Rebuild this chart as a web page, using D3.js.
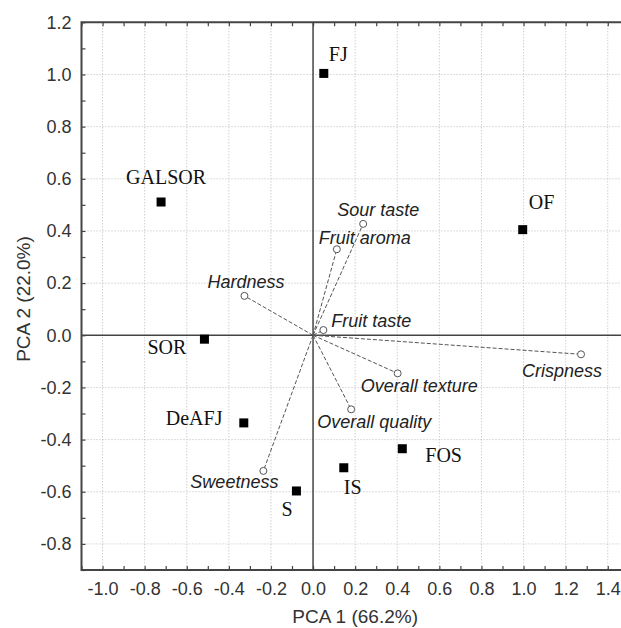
<!DOCTYPE html>
<meta charset="utf-8">
<head>
	<script type="text/javascript" src="https://cdn.jsdelivr.net/npm/d3@7/dist/d3.min.js"></script>
	<style>
		body { margin: 0; background: #fff; }
		.tick text { fill: #333; }
	</style>
</head>
<body>
	<svg id="chart" width="621" height="628"></svg>
</body>
<script type="text/javascript">
	// samples (filled squares)
	var sampleNames = ["FJ", "GALSOR", "OF", "SOR", "DeAFJ", "S", "IS", "FOS"];
	var sampleX = [0.051, -0.722, 0.996, -0.516, -0.329, -0.079, 0.146, 0.424];
	var sampleY = [1.004, 0.511, 0.405, -0.015, -0.336, -0.597, -0.508, -0.435];

	// attributes (open circles, vectors from origin)
	var varNames = ["Sour taste", "Fruit aroma", "Fruit taste", "Crispness", "Overall texture", "Overall quality", "Hardness", "Sweetness"];
	var varX = [0.238, 0.113, 0.049, 1.273, 0.402, 0.181, -0.326, -0.236];
	var varY = [0.427, 0.330, 0.020, -0.073, -0.146, -0.284, 0.151, -0.520];

	var xTickLabels = ["-1.0", "-0.8", "-0.6", "-0.4", "-0.2", "0.0", "0.2", "0.4", "0.6", "0.8", "1.0", "1.2", "1.4"];
	var yTickLabels = ["-0.8", "-0.6", "-0.4", "-0.2", "0.0", "0.2", "0.4", "0.6", "0.8", "1.0", "1.2"];

	// label placement (pixels from the mark)
	var sampleLabelPos = {
		"FJ": [5, -12], "GALSOR": [-35, -18], "OF": [6, -21], "SOR": [-57, 15],
		"DeAFJ": [-78, 2], "S": [-15, 25], "IS": [0, 26], "FOS": [23, 13]
	};
	var varLabelPos = {
		"Sour taste": [-26, -8], "Fruit aroma": [-18, -5], "Fruit taste": [8, -3],
		"Crispness": [-59, 23], "Overall texture": [-37, 19], "Overall quality": [-34, 19],
		"Hardness": [-37, -8], "Sweetness": [-73, 17]
	};

	var svg = d3.select('#chart');
	var plotLeft = 81.5, plotTop = 22.3, plotBottom = 570;

	var x = d3.scaleLinear().domain([-1.1, 1.5]).range([plotLeft, plotLeft + 2.6 * 210.5]);
	var y = d3.scaleLinear().domain([-0.9, 1.2]).range([plotBottom, plotTop]);
	var plotRight = x(1.5);

	var xMajor = xTickLabels.map(Number);
	var yMajor = yTickLabels.map(Number);
	var xMinor = d3.range(-11, 15).map(function(i){ return i / 10; });
	var yMinor = d3.range(-9, 13).map(function(i){ return i / 10; });

	//grid
	var grid = svg.append('g');
	grid.selectAll('line.vg').data(xMajor.filter(function(d){ return d !== 0; }))
		.enter().append('line')
		.attr('x1', function(d){ return x(d); }).attr('x2', function(d){ return x(d); })
		.attr('y1', plotTop).attr('y2', plotBottom)
		.attr('stroke', '#bbb').attr('stroke-width', 1).attr('stroke-dasharray', '1,2');
	grid.selectAll('line.hg').data(yMajor.filter(function(d){ return d !== 0 && d < 1.2; }))
		.enter().append('line')
		.attr('y1', function(d){ return y(d); }).attr('y2', function(d){ return y(d); })
		.attr('x1', plotLeft).attr('x2', plotRight)
		.attr('stroke', '#bbb').attr('stroke-width', 1).attr('stroke-dasharray', '1,2');

	// zero axes
	svg.append('line').attr('x1', x(0)).attr('x2', x(0)).attr('y1', plotTop).attr('y2', plotBottom)
		.attr('stroke', '#444').attr('stroke-width', 1.5);
	svg.append('line').attr('x1', plotLeft).attr('x2', plotRight).attr('y1', y(0)).attr('y2', y(0))
		.attr('stroke', '#444').attr('stroke-width', 1.5);

	// minor ticks, pointing inward
	function minorStyle(g){
		g.select('.domain').remove();
		g.selectAll('.tick line').attr('stroke', '#444').attr('stroke-width', 1.2);
	}
	svg.append('g').attr('transform', 'translate(' + plotLeft + ',0)')
		.call(d3.axisLeft(y).tickValues(yMinor).tickSize(-4).tickFormat(''))
		.call(minorStyle);
	svg.append('g').attr('transform', 'translate(0,' + plotTop + ')')
		.call(d3.axisTop(x).tickValues(xMinor).tickSize(-4).tickFormat(''))
		.call(minorStyle);
	svg.append('g').attr('transform', 'translate(0,' + plotBottom + ')')
		.call(d3.axisBottom(x).tickValues(xMinor).tickSize(-4).tickFormat(''))
		.call(minorStyle);

	// tick labels
	var yAxis = svg.append('g').attr('transform', 'translate(' + plotLeft + ',0)')
		.call(d3.axisLeft(y).tickValues(yMajor).tickSize(0).tickPadding(10)
			.tickFormat(function(d, i){ return yTickLabels[i]; }));
	yAxis.select('.domain').remove();
	yAxis.attr('font-family', 'Liberation Sans, Arial, sans-serif').attr('font-size', 18);

	var xAxis = svg.append('g').attr('transform', 'translate(0,' + plotBottom + ')')
		.call(d3.axisBottom(x).tickValues(xMajor).tickSize(0).tickPadding(12)
			.tickFormat(function(d, i){ return xTickLabels[i]; }));
	xAxis.select('.domain').remove();
	xAxis.attr('font-family', 'Liberation Sans, Arial, sans-serif').attr('font-size', 18);

	// frame
	svg.append('path')
		.attr('d', 'M' + plotRight + ',' + plotTop + 'H' + plotLeft + 'V' + plotBottom + 'H' + plotRight)
		.attr('fill', 'none').attr('stroke', '#444').attr('stroke-width', 2);

	// axis titles
	svg.append('text').attr('x', (plotLeft + plotRight) / 2).attr('y', 623)
		.attr('text-anchor', 'middle').attr('fill', '#333')
		.attr('font-family', 'Liberation Sans, Arial, sans-serif').attr('font-size', 19)
		.text('PCA 1 (66.2%)');
	svg.append('text').attr('transform', 'translate(30,299) rotate(-90)')
		.attr('text-anchor', 'middle').attr('fill', '#333')
		.attr('font-family', 'Liberation Sans, Arial, sans-serif').attr('font-size', 19)
		.text('PCA 2 (22.0%)');

	// attribute vectors
	var vars = varNames.map(function(n, i){ return {name: n, x: varX[i], y: varY[i]}; });
	svg.selectAll('line.vec').data(vars).enter().append('line')
		.attr('x1', x(0)).attr('y1', y(0))
		.attr('x2', function(d){ return x(d.x); }).attr('y2', function(d){ return y(d.y); })
		.attr('stroke', '#555').attr('stroke-width', 1).attr('stroke-dasharray', '4,2');
	svg.selectAll('circle.vp').data(vars).enter().append('circle')
		.attr('cx', function(d){ return x(d.x); }).attr('cy', function(d){ return y(d.y); })
		.attr('r', 3.5).attr('fill', '#fff').attr('stroke', '#555').attr('stroke-width', 1);
	svg.selectAll('text.vl').data(vars).enter().append('text')
		.attr('x', function(d){ return x(d.x) + varLabelPos[d.name][0]; })
		.attr('y', function(d){ return y(d.y) + varLabelPos[d.name][1]; })
		.attr('font-family', 'Liberation Sans, Arial, sans-serif').attr('font-size', 18)
		.attr('font-style', 'italic').attr('fill', '#222')
		.text(function(d){ return d.name; });

	// samples
	var samples = sampleNames.map(function(n, i){ return {name: n, x: sampleX[i], y: sampleY[i]}; });
	svg.selectAll('rect.sp').data(samples).enter().append('rect')
		.attr('x', function(d){ return x(d.x) - 4.5; }).attr('y', function(d){ return y(d.y) - 4.5; })
		.attr('width', 9).attr('height', 9).attr('fill', '#000');
	svg.selectAll('text.sl').data(samples).enter().append('text')
		.attr('x', function(d){ return x(d.x) + sampleLabelPos[d.name][0]; })
		.attr('y', function(d){ return y(d.y) + sampleLabelPos[d.name][1]; })
		.attr('font-family', 'Liberation Serif, Times New Roman, serif').attr('font-size', 20)
		.attr('fill', '#111')
		.text(function(d){ return d.name; });
</script>
